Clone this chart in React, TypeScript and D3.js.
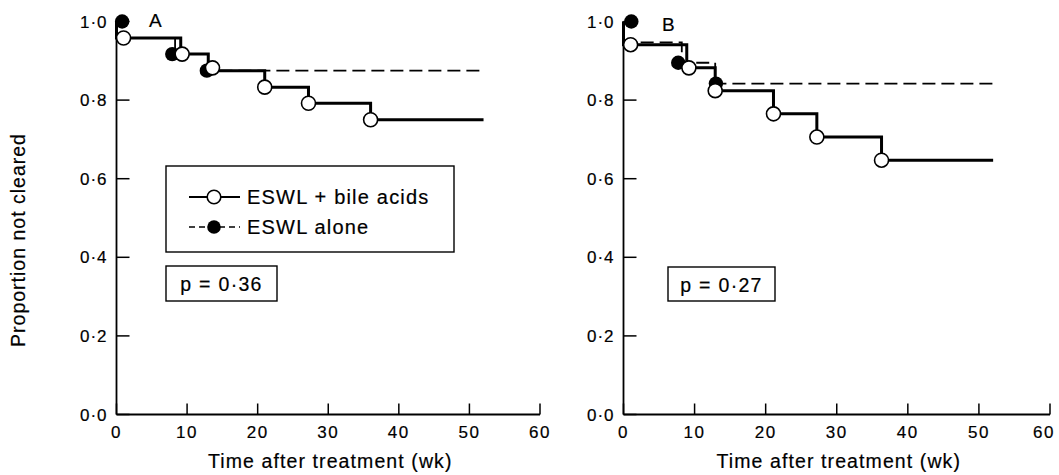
import React from 'react';
import * as d3 from 'd3';

// axis ticks
const xTicks = [0, 10, 20, 30, 40, 50, 60];
const yTicks = [0, 0.2, 0.4, 0.6, 0.8, 1.0];
const followUpEnd = 52;

// panel A: ESWL + bile acids (open) / ESWL alone (filled)
const bileStepsA_t = [0, 9.1, 13, 21, 27.2, 36];
const bileStepsA_p = [0.958, 0.917, 0.875, 0.833, 0.792, 0.75];
const bileMarksA_t = [1, 9.3, 13.6, 21, 27.2, 36];
const bileMarksA_p = [0.958, 0.917, 0.882, 0.833, 0.792, 0.75];
const aloneStepsA_t = [0, 8.3, 13];
const aloneStepsA_p = [0.958, 0.917, 0.875];
const aloneMarksA_t = [0.8, 7.9, 12.8];
const aloneMarksA_p = [1.0, 0.917, 0.875];

// panel B
const bileStepsB_t = [0, 8.9, 12.9, 21.1, 27.2, 36.3];
const bileStepsB_p = [0.941, 0.882, 0.824, 0.765, 0.706, 0.647];
const bileMarksB_t = [1, 9.2, 12.9, 21.1, 27.2, 36.3];
const bileMarksB_p = [0.941, 0.882, 0.824, 0.765, 0.706, 0.647];
const aloneStepsB_t = [0, 8.2, 12.9];
const aloneStepsB_p = [0.947, 0.895, 0.842];
const aloneMarksB_t = [1.1, 7.7, 13];
const aloneMarksB_p = [1.0, 0.895, 0.842];

const legendLabels = ['ESWL + bile acids', 'ESWL alone'];
const pValues = ['p = 0·36', 'p = 0·27'];
const panelLetters = ['A', 'B'];

const FONT = '"Liberation Sans", Arial, Helvetica, sans-serif';
const fmt = (d: number) => d.toFixed(1).replace('.', '·');

// slight stroke so the text looks as heavy as the printed figure
const ink = { fill: '#000', stroke: '#000', strokeWidth: 0.2 };

type PanelProps = {
  x0: number;
  x1: number;
  letter: string;
  pText: string;
  pBox: [number, number, number, number];
  bileT: number[];
  bileP: number[];
  bileMT: number[];
  bileMP: number[];
  aloneT: number[];
  aloneP: number[];
  aloneMT: number[];
  aloneMP: number[];
  legend?: boolean;
  letterPos: [number, number];
};

const Panel = (props: PanelProps) => {
  const { x0, x1 } = props;
  const x = d3.scaleLinear().domain([0, 60]).range([x0, x1]);
  const y = d3.scaleLinear().domain([0, 1]).range([414.5, 21.5]);

  const line = d3
    .line<[number, number]>()
    .x((d) => x(d[0]))
    .y((d) => y(d[1]))
    .curve(d3.curveStepAfter);

  const stepPts = (t: number[], p: number[]): [number, number][] => {
    const pts: [number, number][] = [[0, 1]];
    t.forEach((tt, i) => pts.push([tt, p[i]]));
    pts.push([followUpEnd, p[p.length - 1]]);
    return pts;
  };

  const bilePath = line(stepPts(props.bileT, props.bileP)) || '';
  const alonePath = line(stepPts(props.aloneT, props.aloneP)) || '';
  const [bx, by, bw, bh] = props.pBox;

  return (
    <g>
      {/* y axis */}
      <line x1={x(0)} x2={x(0)} y1={y(0)} y2={y(1)} stroke="#000" strokeWidth={1.8} />
      {yTicks.map((t) => (
        <g key={'y' + t}>
          <line x1={x(0)} x2={x(0) + 13} y1={y(t)} y2={y(t)} stroke="#000" strokeWidth={1.5} />
          <text x={x(0) - 9} y={y(t) + 6} textAnchor="end" fontSize={17} letterSpacing={1} {...ink}>
            {fmt(t)}
          </text>
        </g>
      ))}
      {/* x axis */}
      <line x1={x(0)} x2={x(60)} y1={y(0)} y2={y(0)} stroke="#000" strokeWidth={1.8} />
      {xTicks.map((t) => (
        <g key={'x' + t}>
          <line x1={x(t)} x2={x(t)} y1={y(0)} y2={y(0) - 11} stroke="#000" strokeWidth={1.5} />
          <text
            x={Math.min(x(t), 1044)}
            y={438}
            textAnchor="middle"
            fontSize={17}
            letterSpacing={1.5}
            {...ink}
          >
            {t}
          </text>
        </g>
      ))}
      <text x={x(30) + 2} y={468} textAnchor="middle" fontSize={19.5} letterSpacing={1.1} {...ink}>
        Time after treatment (wk)
      </text>
      <text x={props.letterPos[0]} y={props.letterPos[1]} fontSize={19} letterSpacing={1} {...ink}>
        {props.letter}
      </text>

      {/* survival curves */}
      <path d={alonePath} fill="none" stroke="#000" strokeWidth={1.8} strokeDasharray="13 6" />
      <path d={bilePath} fill="none" stroke="#000" strokeWidth={3} />
      {props.aloneMT.map((t, i) => (
        <circle key={'a' + i} cx={x(t)} cy={y(props.aloneMP[i])} r={7.2} fill="#000" />
      ))}
      {props.bileMT.map((t, i) => (
        <circle key={'b' + i} cx={x(t)} cy={y(props.bileMP[i])} r={7} fill="#fff" stroke="#000" strokeWidth={1.6} />
      ))}

      {/* p value box */}
      <rect x={bx} y={by} width={bw} height={bh} fill="#fff" stroke="#000" strokeWidth={1.4} />
      <text x={bx + bw / 2} y={by + 25} textAnchor="middle" fontSize={19.5} letterSpacing={1.3} {...ink}>
        {props.pText}
      </text>

      {props.legend && (
        <g>
          <rect x={166} y={166} width={288} height={86} fill="#fff" stroke="#000" strokeWidth={1.4} />
          <line x1={189} x2={240} y1={197} y2={197} stroke="#000" strokeWidth={1.8} />
          <circle cx={214} cy={197} r={6.8} fill="#fff" stroke="#000" strokeWidth={1.6} />
          <text x={247} y={204} fontSize={20} letterSpacing={1.2} {...ink}>
            {legendLabels[0]}
          </text>
          <line x1={189} x2={240} y1={227} y2={227} stroke="#000" strokeWidth={1.6} strokeDasharray="6 4" />
          <circle cx={214} cy={227} r={6.8} fill="#000" />
          <text x={247} y={234} fontSize={20} letterSpacing={1.2} {...ink}>
            {legendLabels[1]}
          </text>
        </g>
      )}
    </g>
  );
};

const App = () => {
  return (
    <svg
      width={1059}
      height={475}
      style={{ position: 'absolute', left: 0, top: 0, background: '#fff' }}
      fontFamily={FONT}
    >
      <rect width={1059} height={475} fill="#fff" />
      <text
        transform="translate(25,240) rotate(-90)"
        textAnchor="middle"
        fontSize={19.5}
        letterSpacing={1}
        {...ink}
      >
        Proportion not cleared
      </text>
      <Panel
        x0={116.5}
        x1={540}
        letter={panelLetters[0]}
        letterPos={[149, 27]}
        pText={pValues[0]}
        pBox={[166, 266, 111, 35]}
        bileT={bileStepsA_t}
        bileP={bileStepsA_p}
        bileMT={bileMarksA_t}
        bileMP={bileMarksA_p}
        aloneT={aloneStepsA_t}
        aloneP={aloneStepsA_p}
        aloneMT={aloneMarksA_t}
        aloneMP={aloneMarksA_p}
        legend
      />
      <Panel
        x0={623.5}
        x1={1050}
        letter={panelLetters[1]}
        letterPos={[662, 31]}
        pText={pValues[1]}
        pBox={[668, 267, 107, 34]}
        bileT={bileStepsB_t}
        bileP={bileStepsB_p}
        bileMT={bileMarksB_t}
        bileMP={bileMarksB_p}
        aloneT={aloneStepsB_t}
        aloneP={aloneStepsB_p}
        aloneMT={aloneMarksB_t}
        aloneMP={aloneMarksB_p}
      />
    </svg>
  );
};

export default App;
